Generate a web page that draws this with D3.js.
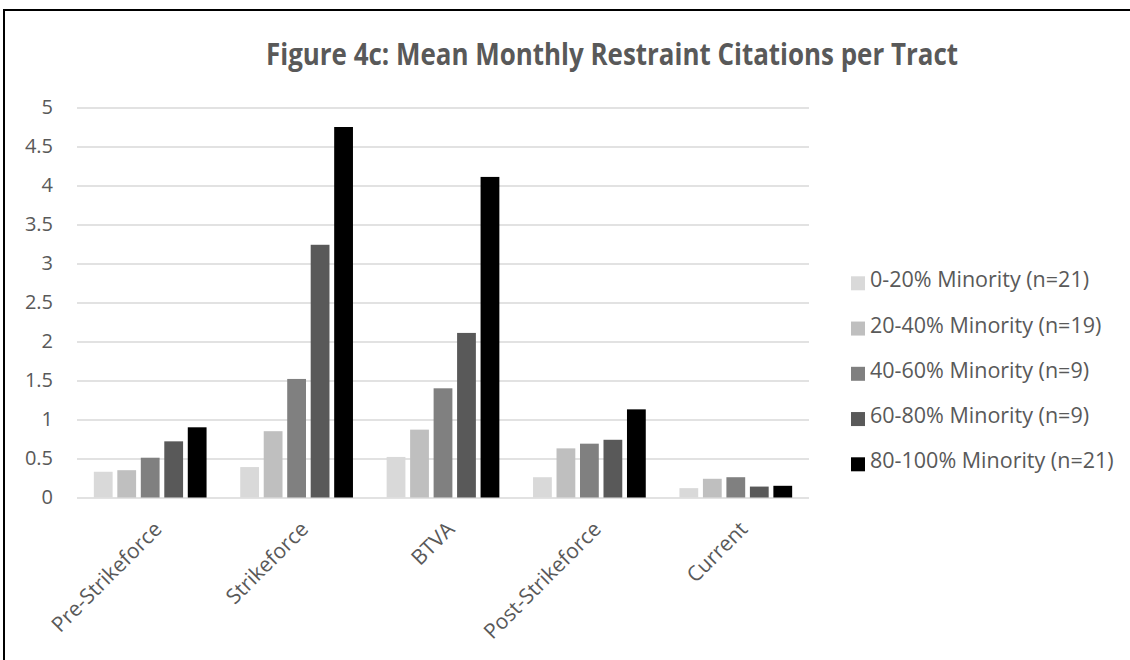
<!DOCTYPE html>
<html><head><meta charset="utf-8">
<script src="https://cdn.jsdelivr.net/npm/d3@7"></script>
<style>body{margin:0;background:#fff}svg{display:block}</style>
</head><body><svg id="c" width="1130" height="660"></svg>
<script>
const categories = ["Pre-Strikeforce","Strikeforce","BTVA","Post-Strikeforce","Current"];
const seriesNames = ["0-20% Minority (n=21)","20-40% Minority (n=19)","40-60% Minority (n=9)","60-80% Minority (n=9)","80-100% Minority (n=21)"];
const s0 = [0.33,0.39,0.52,0.26,0.12];
const s1 = [0.35,0.85,0.87,0.63,0.24];
const s2 = [0.51,1.52,1.40,0.69,0.26];
const s3 = [0.72,3.24,2.11,0.74,0.14];
const s4 = [0.90,4.75,4.11,1.13,0.15];
const yTicks = [0,0.5,1,1.5,2,2.5,3,3.5,4,4.5,5];
const colors = ["#d9d9d9","#bfbfbf","#808080","#595959","#000000"];
const series = [s0,s1,s2,s3,s4];

const svg = d3.select("#c");
svg.append("rect").attr("x",4).attr("y",10).attr("width",1140).attr("height",700)
  .attr("fill","#fff").attr("stroke","#000").attr("stroke-width",2);

const font = "Open Sans, Liberation Sans, sans-serif";
svg.append("text").attr("x",612).attr("y",65).attr("text-anchor","middle")
  .attr("font-family",font).attr("font-weight","bold").attr("font-size",29.5)
  .attr("fill","#595959").attr("textLength",692).attr("lengthAdjust","spacingAndGlyphs")
  .text("Figure 4c: Mean Monthly Restraint Citations per Tract");

const x0 = d3.scaleBand().domain(categories).range([77,809]).paddingInner(0.23).paddingOuter(0.115);
const x1 = d3.scaleBand().domain(d3.range(5)).range([0,x0.bandwidth()]).paddingInner(0.2);
const y = d3.scaleLinear().domain([0,5]).range([497.5,107.5]);

const gy = svg.append("g").attr("transform","translate(77,0)")
  .call(d3.axisLeft(y).tickValues(yTicks).tickSize(-732).tickPadding(24).tickFormat(d3.format("")));
gy.select(".domain").remove();
gy.selectAll(".tick line").attr("stroke","#d9d9d9").attr("stroke-width",1.3);
gy.selectAll(".tick text").attr("font-family",font).attr("font-size",20).attr("fill","#595959");

const g = svg.append("g");
categories.forEach((c,i)=>{
  series.forEach((s,j)=>{
    g.append("rect").attr("x",x0(c)+x1(j)).attr("y",y(s[i]))
      .attr("width",x1.bandwidth()).attr("height",y(0)-y(s[i])).attr("fill",colors[j]);
  });
});

const gx = svg.append("g").attr("transform","translate(0,497.5)")
  .call(d3.axisBottom(x0).tickSize(0).tickPadding(0));
gx.select(".domain").remove();
gx.selectAll(".tick text").attr("font-family",font).attr("font-size",21).attr("fill","#595959")
  .attr("text-anchor","end").attr("dy",0).attr("y",0).attr("transform","translate(13,33) rotate(-45)");

const lg = svg.append("g");
seriesNames.forEach((n,j)=>{
  const yy = 287.3 + j*45.25;
  lg.append("rect").attr("x",851).attr("y",yy-11).attr("width",14).attr("height",14).attr("fill",colors[j]);
  lg.append("text").attr("x",870).attr("y",yy).attr("font-family",font).attr("font-size",21.5)
    .attr("fill","#595959").text(n);
});
</script></body></html>
